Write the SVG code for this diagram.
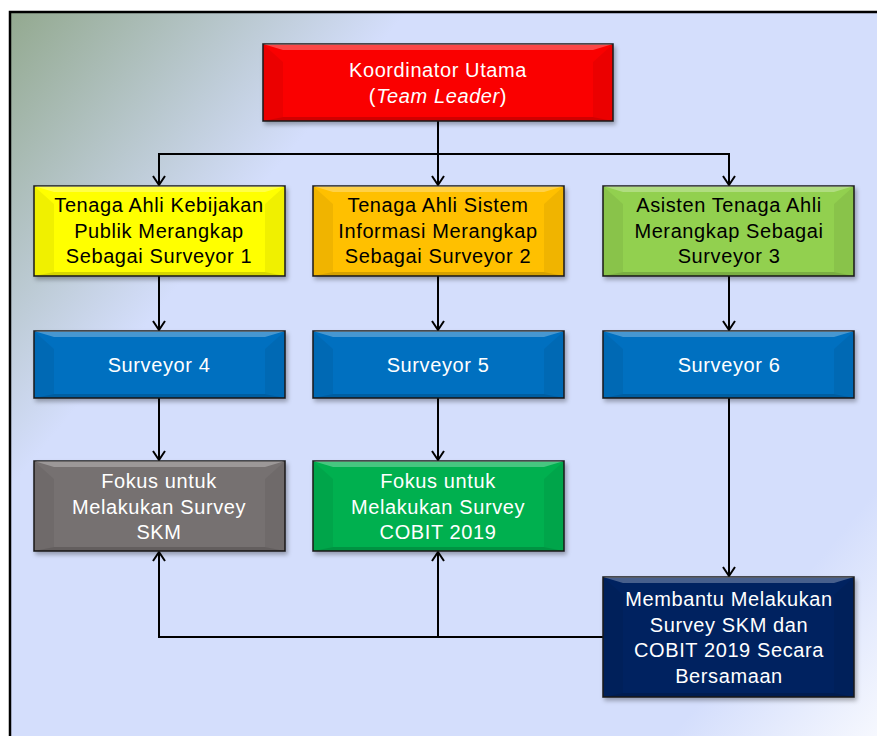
<svg xmlns="http://www.w3.org/2000/svg" width="877" height="736" viewBox="0 0 877 736">
<defs>
<linearGradient id="bg" gradientUnits="userSpaceOnUse" x1="10" y1="12" x2="877" y2="736">
<stop offset="0" stop-color="#93a98f"/>
<stop offset="0.27" stop-color="#d4defc"/>
<stop offset="0.86" stop-color="#d4defc"/>
<stop offset="1" stop-color="#f6f8fe"/>
</linearGradient>
<filter id="sh" x="-5%" y="-5%" width="115%" height="125%">
<feDropShadow dx="2" dy="3" stdDeviation="2" flood-color="#000" flood-opacity="0.3"/>
</filter>
<marker id="ah" markerUnits="userSpaceOnUse" markerWidth="14" markerHeight="14" refX="12" refY="7" orient="auto">
<path d="M3,1 L12,7 L3,13" fill="none" stroke="#000" stroke-width="2"/>
</marker>
</defs>
<style>
.frame{fill:url(#bg);stroke:#000;stroke-width:2.5}
.box{stroke:#1a1a1a;stroke-width:1.5;filter:url(#sh)}
.bt{fill:#fff;fill-opacity:0.28}
.bs{fill:#000;fill-opacity:0.06}
.bb{fill:#000;fill-opacity:0.16}
.t{font-family:"Liberation Sans",Arial,sans-serif;font-size:20px;letter-spacing:0.6px;text-anchor:middle}
.w{fill:#fff}
.k{fill:#000}
.c{fill:none;stroke:#000;stroke-width:2}
</style>
<rect class="frame" x="10" y="12" width="880" height="740"/>

<g id="connectors">
<path class="c" d="M438,121 V185" marker-end="url(#ah)"/>
<path class="c" d="M438,154 H159 V185" marker-end="url(#ah)"/>
<path class="c" d="M438,154 H729 V185" marker-end="url(#ah)"/>
<path class="c" d="M159,276 V330" marker-end="url(#ah)"/>
<path class="c" d="M438,276 V330" marker-end="url(#ah)"/>
<path class="c" d="M729,276 V330" marker-end="url(#ah)"/>
<path class="c" d="M159,398 V460" marker-end="url(#ah)"/>
<path class="c" d="M438,398 V460" marker-end="url(#ah)"/>
<path class="c" d="M729,398 V576" marker-end="url(#ah)"/>
<path class="c" d="M603,637 H159 V552" marker-end="url(#ah)"/>
<path class="c" d="M438,637 V552" marker-end="url(#ah)"/>
</g>

<g id="koordinator">
<rect class="box" x="263" y="44" width="350" height="77" fill="#fa0000"/>
<polygon class="bt" points="263,44 613,44 593,50 283,50"/>
<polygon class="bs" points="263,44 283,62 283,117 263,121"/>
<polygon class="bs" points="613,44 593,62 593,117 613,121"/>
<polygon class="bb" points="263,121 613,121 593,117 283,117"/>
<text class="t w" x="438" y="77">Koordinator Utama</text>
<text class="t w" x="438" y="103">(<tspan font-style="italic">Team Leader</tspan>)</text>
</g>

<g id="surveyor1">
<rect class="box" x="34" y="186" width="251" height="90" fill="#ffff00"/>
<polygon class="bt" points="34,186 285,186 265,192 54,192"/>
<polygon class="bs" points="34,186 54,204 54,272 34,276"/>
<polygon class="bs" points="285,186 265,204 265,272 285,276"/>
<polygon class="bb" points="34,276 285,276 265,272 54,272"/>
<text class="t k" x="159" y="212">Tenaga Ahli Kebijakan</text>
<text class="t k" x="159" y="238">Publik Merangkap</text>
<text class="t k" x="159" y="263">Sebagai Surveyor 1</text>
</g>

<g id="surveyor2">
<rect class="box" x="313" y="186" width="251" height="90" fill="#ffc000"/>
<polygon class="bt" points="313,186 564,186 544,192 333,192"/>
<polygon class="bs" points="313,186 333,204 333,272 313,276"/>
<polygon class="bs" points="564,186 544,204 544,272 564,276"/>
<polygon class="bb" points="313,276 564,276 544,272 333,272"/>
<text class="t k" x="438" y="212">Tenaga Ahli Sistem</text>
<text class="t k" x="438" y="238">Informasi Merangkap</text>
<text class="t k" x="438" y="263">Sebagai Surveyor 2</text>
</g>

<g id="surveyor3">
<rect class="box" x="603" y="186" width="251" height="90" fill="#92d050"/>
<polygon class="bt" points="603,186 854,186 834,192 623,192"/>
<polygon class="bs" points="603,186 623,204 623,272 603,276"/>
<polygon class="bs" points="854,186 834,204 834,272 854,276"/>
<polygon class="bb" points="603,276 854,276 834,272 623,272"/>
<text class="t k" x="729" y="212">Asisten Tenaga Ahli</text>
<text class="t k" x="729" y="238">Merangkap Sebagai</text>
<text class="t k" x="729" y="263">Surveyor 3</text>
</g>

<g id="surveyor4">
<rect class="box" x="34" y="331" width="251" height="67" fill="#0070c0"/>
<polygon class="bt" points="34,331 285,331 265,337 54,337"/>
<polygon class="bs" points="34,331 54,349 54,394 34,398"/>
<polygon class="bs" points="285,331 265,349 265,394 285,398"/>
<polygon class="bb" points="34,398 285,398 265,394 54,394"/>
<text class="t w" x="159" y="372">Surveyor 4</text>
</g>

<g id="surveyor5">
<rect class="box" x="313" y="331" width="251" height="67" fill="#0070c0"/>
<polygon class="bt" points="313,331 564,331 544,337 333,337"/>
<polygon class="bs" points="313,331 333,349 333,394 313,398"/>
<polygon class="bs" points="564,331 544,349 544,394 564,398"/>
<polygon class="bb" points="313,398 564,398 544,394 333,394"/>
<text class="t w" x="438" y="372">Surveyor 5</text>
</g>

<g id="surveyor6">
<rect class="box" x="603" y="331" width="251" height="67" fill="#0070c0"/>
<polygon class="bt" points="603,331 854,331 834,337 623,337"/>
<polygon class="bs" points="603,331 623,349 623,394 603,398"/>
<polygon class="bs" points="854,331 834,349 834,394 854,398"/>
<polygon class="bb" points="603,398 854,398 834,394 623,394"/>
<text class="t w" x="729" y="372">Surveyor 6</text>
</g>

<g id="fokus-skm">
<rect class="box" x="34" y="461" width="251" height="90" fill="#767171"/>
<polygon class="bt" points="34,461 285,461 265,467 54,467"/>
<polygon class="bs" points="34,461 54,479 54,547 34,551"/>
<polygon class="bs" points="285,461 265,479 265,547 285,551"/>
<polygon class="bb" points="34,551 285,551 265,547 54,547"/>
<text class="t w" x="159" y="488">Fokus untuk</text>
<text class="t w" x="159" y="514">Melakukan Survey</text>
<text class="t w" x="159" y="539">SKM</text>
</g>

<g id="fokus-cobit">
<rect class="box" x="313" y="461" width="251" height="90" fill="#00b050"/>
<polygon class="bt" points="313,461 564,461 544,467 333,467"/>
<polygon class="bs" points="313,461 333,479 333,547 313,551"/>
<polygon class="bs" points="564,461 544,479 544,547 564,551"/>
<polygon class="bb" points="313,551 564,551 544,547 333,547"/>
<text class="t w" x="438" y="488">Fokus untuk</text>
<text class="t w" x="438" y="514">Melakukan Survey</text>
<text class="t w" x="438" y="539">COBIT 2019</text>
</g>

<g id="membantu">
<rect class="box" x="603" y="577" width="251" height="120" fill="#002060"/>
<polygon class="bt" points="603,577 854,577 834,583 623,583"/>
<polygon class="bs" points="603,577 623,595 623,693 603,697"/>
<polygon class="bs" points="854,577 834,595 834,693 854,697"/>
<polygon class="bb" points="603,697 854,697 834,693 623,693"/>
<text class="t w" x="729" y="606">Membantu Melakukan</text>
<text class="t w" x="729" y="632">Survey SKM dan</text>
<text class="t w" x="729" y="657">COBIT 2019 Secara</text>
<text class="t w" x="729" y="683">Bersamaan</text>
</g>
</svg>
